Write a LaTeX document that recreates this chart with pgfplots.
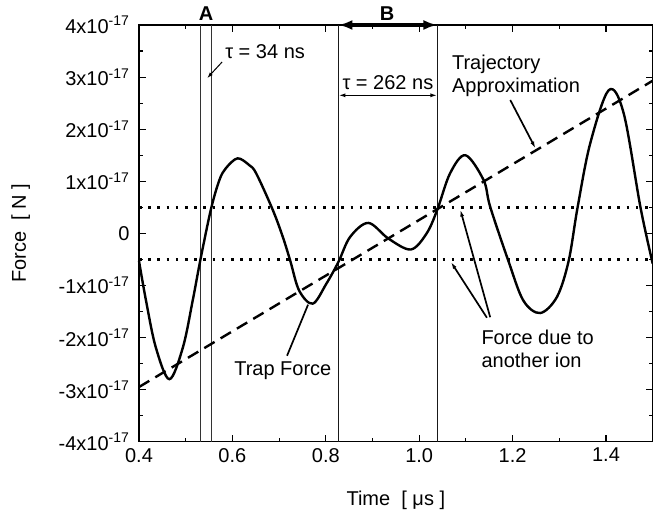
\documentclass[border=0pt]{standalone}
\usepackage{pgfplots}
\pgfplotsset{compat=1.18}
\usepackage{fontspec}
\setmainfont{Liberation Sans}
\usetikzlibrary{calc,arrows.meta}
\begin{document}
\begin{tikzpicture}[font=\fontsize{20}{23}\selectfont]
\begin{axis}[
  name=ax,
  scale only axis,
  width=513.7pt, height=416.7pt,
  xmin=0.4, xmax=1.5, ymin=-4, ymax=4,
  clip=false,
  tick align=inside,
  xtick={0.4,0.6,0.8,1.0,1.2,1.4},
  xticklabels={0.4,0.6,0.8,1.0,1.2,1.4},
  ytick={-4,-3,-2,-1,0,1,2,3,4},
  yticklabels={-4x10\textsuperscript{-17},-3x10\textsuperscript{-17},-2x10\textsuperscript{-17},-1x10\textsuperscript{-17},0,1x10\textsuperscript{-17},2x10\textsuperscript{-17},3x10\textsuperscript{-17},4x10\textsuperscript{-17}},
  minor x tick num=1, minor y tick num=1,
  major tick length=7pt, minor tick length=4pt,
  every tick/.style={black, line width=1.1pt},
  axis line style={line width=1.5pt},
  tick label style={font=\fontsize{20}{23}\selectfont},
  yticklabel style={xshift=-6pt},
  xticklabel style={yshift=-3pt},
  xlabel={Time\ \ [ μs ]},
  ylabel={Force\ \ [ N ]},
  label style={font=\fontsize{20}{23}\selectfont},
  xlabel style={at={(axis description cs:0.5,-0.152)}, anchor=base},
  ylabel style={at={(axis description cs:-0.22,0.5)}, anchor=base},
]
% horizontal dotted lines (force due to another ion)
\addplot[line width=2.6pt, dash pattern=on 2.6pt off 6.6pt] coordinates {(0.4,0.5) (1.5,0.5)};
\addplot[line width=2.6pt, dash pattern=on 2.6pt off 6.6pt] coordinates {(0.4,-0.5) (1.5,-0.5)};
% vertical marker lines
\addplot[line width=1pt, black!80] coordinates {(0.532,-4) (0.532,4)};
\addplot[line width=1pt, black!80] coordinates {(0.555,-4) (0.555,4)};
\addplot[line width=1pt, black!90] coordinates {(0.827,-4) (0.827,4)};
\addplot[line width=1pt, black!90] coordinates {(1.039,-4) (1.039,4)};
% trajectory approximation
\addplot[line width=2.4pt, dash pattern=on 12pt off 7pt] coordinates {(0.4,-2.95) (1.5,2.93)};
% trap force
\addplot[line width=2.4pt, smooth, tension=0.55] coordinates {
(0.400,-0.53) (0.415,-1.29) (0.436,-2.19) (0.465,-2.80) (0.494,-2.19)
(0.515,-1.29) (0.531,-0.53) (0.554,0.46) (0.572,1.02) (0.586,1.25)
(0.611,1.44) (0.636,1.31) (0.651,1.15) (0.686,0.46) (0.708,-0.07)
(0.724,-0.53) (0.743,-1.10) (0.772,-1.35) (0.801,-0.97) (0.827,-0.55)
(0.852,-0.07) (0.891,0.20) (0.934,-0.10) (0.982,-0.31) (1.016,0.00)
(1.039,0.46) (1.066,1.15) (1.099,1.50) (1.138,1.02) (1.152,0.51)
(1.191,-0.53) (1.223,-1.29) (1.259,-1.53) (1.295,-1.22) (1.320,-0.53)
(1.339,0.49) (1.366,1.72) (1.406,2.75) (1.438,2.30) (1.474,0.49)
(1.500,-0.58)};
% annotations
\node[font=\fontsize{20}{23}\selectfont\bfseries] at (axis cs:0.5436,4.21) {A};
\node[font=\fontsize{20}{23}\selectfont\bfseries] at (axis cs:0.931,4.21) {B};
\draw[line width=3.2pt, {Latex[length=14pt,width=10pt]}-{Latex[length=14pt,width=10pt]}] (axis cs:0.827,4) -- (axis cs:1.039,4);
\node at (axis cs:0.670,3.48) {τ = 34 ns};
\draw[line width=1pt, -{Latex[length=6pt,width=4pt]}] (axis cs:0.578,3.29) -- (axis cs:0.546,2.98);
\node at (axis cs:0.933,2.90) {τ = 262 ns};
\draw[line width=1.5pt, {Latex[length=7pt,width=4pt]}-{Latex[length=7pt,width=4pt]}] (axis cs:0.827,2.65) -- (axis cs:1.039,2.65);
\node[align=left, anchor=west, inner sep=0pt] at (axis cs:1.070,3.03) {Trajectory\\Approximation};
\draw[line width=1.7pt, -{Latex[length=7pt,width=4pt]}] (axis cs:1.195,2.56) -- (axis cs:1.249,1.63);
\node at (axis cs:0.708,-2.63) {Trap Force};
\draw[line width=1.7pt] (axis cs:0.717,-2.35) -- (axis cs:0.762,-1.37);
\node[align=left, anchor=west, inner sep=0pt] at (axis cs:1.133,-2.21) {Force due to\\another ion};
\draw[line width=1.7pt, -{Latex[length=7pt,width=4pt]}] (axis cs:1.152,-1.61) -- (axis cs:1.088,0.456);
\draw[line width=1.7pt, -{Latex[length=7pt,width=4pt]}] (axis cs:1.145,-1.62) -- (axis cs:1.068,-0.55);
\end{axis}
\pgfresetboundingbox
\path[use as bounding box] ($(ax.south west)+(-139pt,-68.3pt)$) rectangle ($(ax.north east)+(0.3pt,25pt)$);
\end{tikzpicture}
\end{document}
